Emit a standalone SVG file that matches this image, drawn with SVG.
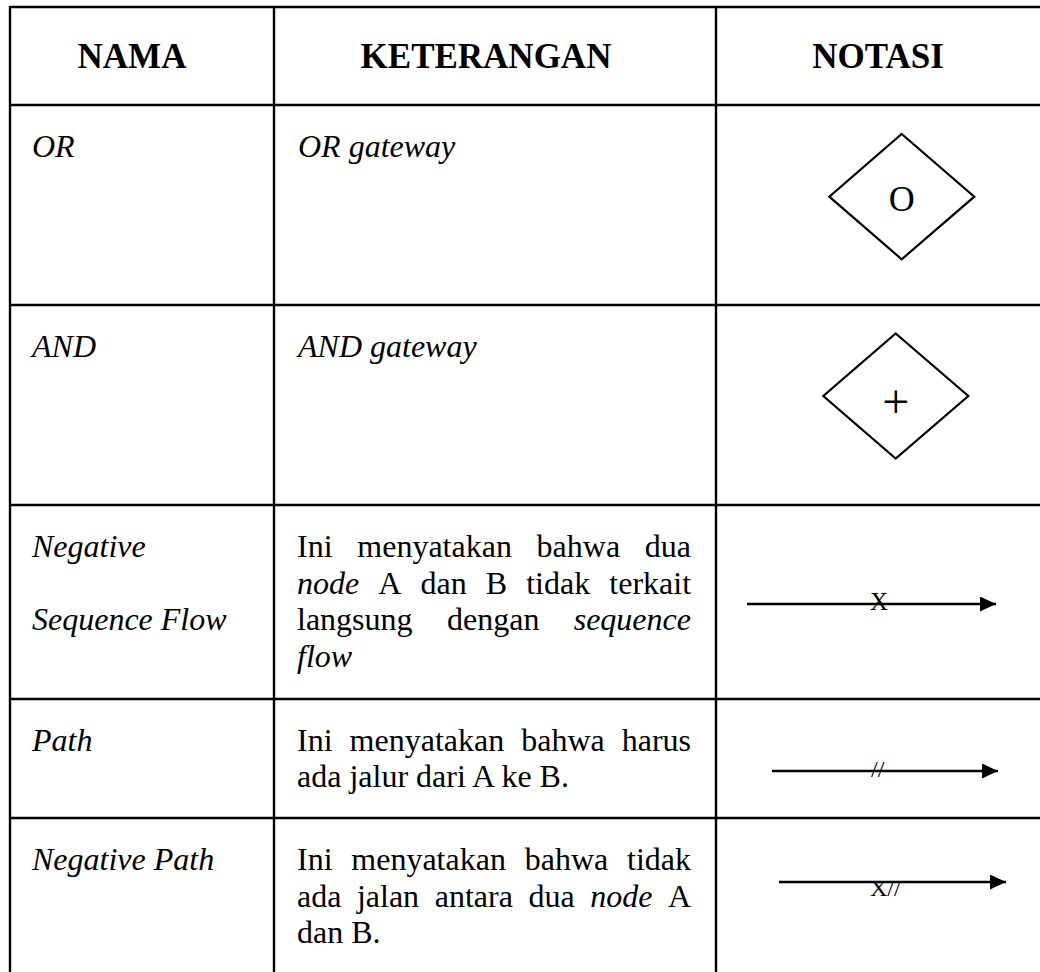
<svg xmlns="http://www.w3.org/2000/svg" width="1040" height="972" viewBox="0 0 1040 972">
  <style>
    .grid { stroke: #000; stroke-width: 2.4; fill: none; }
    text { font-family: "Liberation Serif", "Times New Roman", serif; font-size: 32px; fill: #000; }
    .hd { font-weight: bold; text-anchor: middle; font-size: 35px; }
    .it { font-style: italic; }
    .shape { fill: #fff; stroke: #000; stroke-width: 2.2; }
    .flow { stroke: #000; stroke-width: 2.4; fill: none; marker-end: url(#head); }
    .tag { font-size: 24px; }
  </style>
  <defs>
    <marker id="head" markerUnits="userSpaceOnUse" markerWidth="16" markerHeight="15" refX="16" refY="7.5" orient="auto">
      <path d="M0,0 L16,7.5 L0,15 Z" fill="#000"/>
    </marker>
  </defs>
  <rect width="1040" height="972" fill="#fff"/>

  <!-- table rules -->
  <g id="grid" class="grid">
    <line x1="10" y1="7" x2="1040" y2="7"/>
    <line x1="10" y1="105" x2="1040" y2="105"/>
    <line x1="10" y1="305" x2="1040" y2="305"/>
    <line x1="10" y1="505" x2="1040" y2="505"/>
    <line x1="10" y1="699" x2="1040" y2="699"/>
    <line x1="10" y1="818" x2="1040" y2="818"/>
    <line x1="10" y1="6" x2="10" y2="972"/>
    <line x1="274" y1="6" x2="274" y2="972"/>
    <line x1="716" y1="6" x2="716" y2="972"/>
  </g>

  <!-- header row -->
  <g id="header">
    <text class="hd" x="132" y="68">NAMA</text>
    <text class="hd" x="486" y="68">KETERANGAN</text>
    <text class="hd" x="878" y="68">NOTASI</text>
  </g>

  <!-- OR gateway -->
  <g id="row-or">
    <text class="it" x="32" y="157">OR</text>
    <text class="it" x="298" y="157">OR gateway</text>
    <g id="or-gateway">
      <polygon class="shape" points="901.7,134 974.3,196.7 901.7,259.3 829.3,196.7"/>
      <text x="901.7" y="210.5" text-anchor="middle" style="font-size:36px">O</text>
    </g>
  </g>

  <!-- AND gateway -->
  <g id="row-and">
    <text class="it" x="32" y="357">AND</text>
    <text class="it" x="298" y="357">AND gateway</text>
    <g id="and-gateway">
      <polygon class="shape" points="895.7,333.5 968.3,396 895.7,458.5 823.3,396"/>
      <text x="895.7" y="418" text-anchor="middle" style="font-size:48px">+</text>
    </g>
  </g>

  <!-- Negative Sequence Flow -->
  <g id="row-negative-sequence-flow">
    <text class="it" x="32" y="557">Negative</text>
    <text class="it" x="32" y="630">Sequence Flow</text>
    <text y="557"><tspan x="297">Ini</tspan><tspan x="357.3">menyatakan</tspan><tspan x="536.6">bahwa</tspan><tspan x="644.8">dua</tspan></text>
    <text y="593.7"><tspan x="297" class="it">node</tspan><tspan x="378.3">A</tspan><tspan x="420.5">dan</tspan><tspan x="485.8">B</tspan><tspan x="526.2">tidak</tspan><tspan x="609.3">terkait</tspan></text>
    <text y="630.3"><tspan x="297">langsung</tspan><tspan x="447">dengan</tspan><tspan x="573.7" class="it">sequence</tspan></text>
    <text class="it" x="297" y="667">flow</text>
    <g id="negative-sequence-flow">
      <line class="flow" x1="747" y1="604" x2="996" y2="604"/>
      <text class="tag" x="879" y="610" text-anchor="middle" style="font-size:25px">X</text>
    </g>
  </g>

  <!-- Path -->
  <g id="row-path">
    <text class="it" x="32" y="751">Path</text>
    <text y="751"><tspan x="297">Ini</tspan><tspan x="349.6">menyatakan</tspan><tspan x="521.2">bahwa</tspan><tspan x="621.7">harus</tspan></text>
    <text x="297" y="787">ada jalur dari A ke B.</text>
    <g id="path-flow">
      <line class="flow" x1="772" y1="771" x2="998" y2="771"/>
      <text class="tag" x="871" y="777">//</text>
    </g>
  </g>

  <!-- Negative Path -->
  <g id="row-negative-path">
    <text class="it" x="32" y="870">Negative Path</text>
    <text y="870"><tspan x="297">Ini</tspan><tspan x="351.3">menyatakan</tspan><tspan x="524.7">bahwa</tspan><tspan x="627">tidak</tspan></text>
    <text y="906.7"><tspan x="297">ada</tspan><tspan x="356.9">jalan</tspan><tspan x="434.7">antara</tspan><tspan x="528.4">dua</tspan><tspan x="590.2" class="it">node</tspan><tspan x="667.9">A</tspan></text>
    <text x="297" y="943">dan B.</text>
    <g id="negative-path-flow">
      <line class="flow" x1="779" y1="882" x2="1006" y2="882"/>
      <text class="tag" x="870" y="896">X//</text>
    </g>
  </g>
</svg>
